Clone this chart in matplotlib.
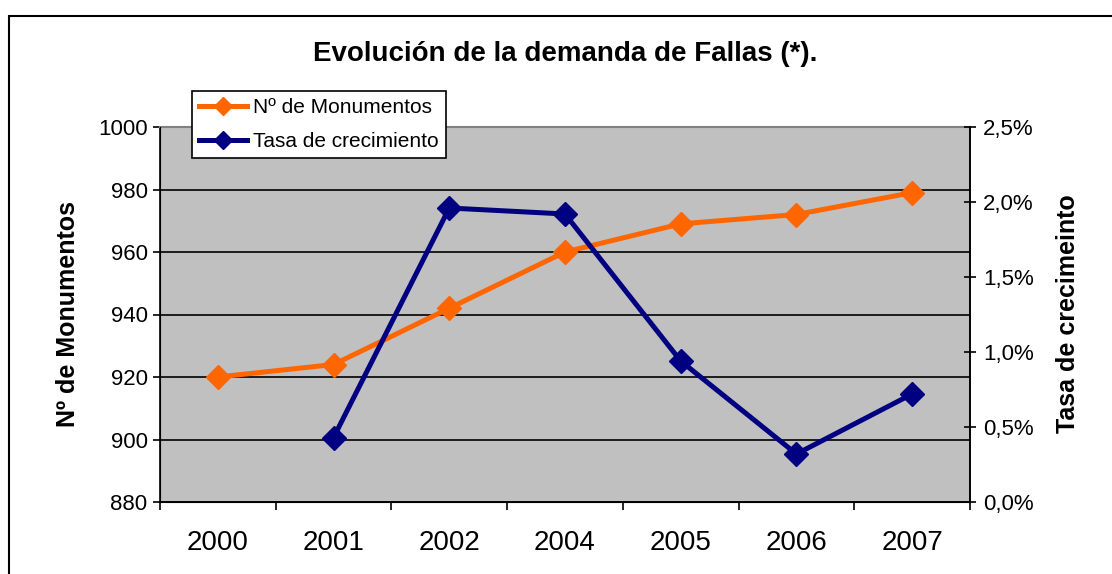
import numpy as np
import matplotlib
matplotlib.use("Agg")
import matplotlib.pyplot as plt
from matplotlib.patches import Rectangle
from matplotlib.ticker import FuncFormatter, FixedLocator

plt.rcParams['font.family'] = ['Liberation Sans', 'DejaVu Sans']

years = ["2000", "2001", "2002", "2004", "2005", "2006", "2007"]
monumentos = [920, 924, 942, 960, 969, 972, 979]
# growth rate (fraction), none for the first year
tasa = [np.nan, 0.0043, 0.0196, 0.0192, 0.0094, 0.0032, 0.0072]

fig = plt.figure(figsize=(11.12, 5.74), dpi=100)
fig.patch.set_facecolor("white")

# outer chart border (cut by the image on right and bottom)
fig.patches.append(Rectangle((9/1112, -0.2), 1.2, 0.2 + 1 - 16/574, transform=fig.transFigure,
                             fill=False, edgecolor="black", linewidth=1.5))

ax = fig.add_axes([160/1112, 1 - 502/574, 810/1112, 375/574])
ax.set_facecolor("#C0C0C0")
x = np.arange(len(years))

l1, = ax.plot(x, monumentos, color="#FF6600", linewidth=3.6, marker="D", markersize=12,
              label="Nº de Monumentos", zorder=3)
ax.set_ylim(880, 1000)
ax.set_yticks(range(880, 1001, 20))
ax.set_xlim(-0.5, len(years) - 0.5)
ax.yaxis.grid(True, color="black", linewidth=1.2)
ax.set_axisbelow(True)
ax.set_xticks(x)
ax.set_xticklabels(years, fontsize=20)
ax.xaxis.set_minor_locator(FixedLocator(np.arange(-0.5, len(years), 1)))
ax.tick_params(axis="x", which="major", length=0, pad=20)
ax.tick_params(axis="x", which="minor", length=6, width=1.2, direction="out")
ax.tick_params(axis="y", labelsize=16, length=5, width=1.2, direction="out", pad=4)
ax.spines["top"].set_color("#808080")
ax.spines["top"].set_linewidth(1.5)
for s in ["left", "bottom", "right"]:
    ax.spines[s].set_linewidth(1.2)

ax2 = ax.twinx()
l2, = ax2.plot(x, tasa, color="#000080", linewidth=3.6, marker="D", markersize=12,
               label="Tasa de crecimiento", zorder=4)
ax2.set_ylim(0, 0.025)
ax2.set_yticks(np.arange(0, 0.0251, 0.005))
ax2.yaxis.set_major_formatter(FuncFormatter(lambda v, p: ("%.1f%%" % (v * 100)).replace(".", ",")))
ax2.tick_params(axis="y", labelsize=16, length=9, width=1.2, direction="inout", pad=5)
ax2.spines["top"].set_visible(False)
ax2.spines["right"].set_linewidth(1.2)

fig.text(0.508, 1 - 54/574, "Evolución de la demanda de Fallas (*).", fontsize=20,
         fontweight="bold", ha="center", va="center")
fig.text(68/1112, 1 - 314/574, "Nº de Monumentos", fontsize=18, fontweight="bold",
         rotation=90, ha="center", va="center")
fig.text(1068/1112, 1 - 314/574, "Tasa de crecimeinto", fontsize=18, fontweight="bold",
         rotation=90, ha="center", va="center")

leg = fig.legend(handles=[l1, l2], loc="upper left", bbox_to_anchor=(192/1112, 1 - 91/574),
                 bbox_transform=fig.transFigure, fontsize=15, fancybox=False, framealpha=1,
                 edgecolor="black", borderaxespad=0, handlelength=2.3, handletextpad=0.3,
                 borderpad=0.35, labelspacing=0.7)
leg.get_frame().set_linewidth(1.2)
for h in leg.legend_handles:
    h.set_markersize(9)

fig.savefig("out.png", dpi=100)
